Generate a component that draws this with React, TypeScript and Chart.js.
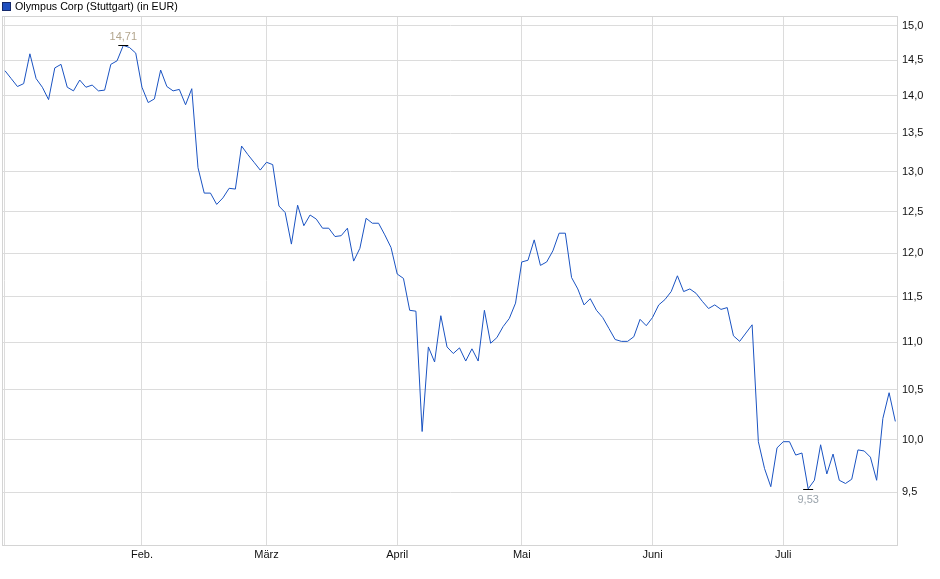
import React, { useEffect, useRef } from 'react';
import { Chart, registerables } from 'chart.js';

Chart.register(...registerables);

// one value per Stuttgart trading day, 2 Jan to 25 Jul
const closes = [
    14.35, 14.24, 14.13, 14.17, 14.59, 14.24, 14.12, 13.95, 14.39, 14.44,
    14.12, 14.07, 14.22, 14.12, 14.15, 14.07, 14.08, 14.44, 14.49, 14.71,
    14.68, 14.60, 14.12, 13.91, 13.96, 14.36, 14.13, 14.07, 14.09, 13.88,
    14.10, 13.05, 12.73, 12.73, 12.59, 12.67, 12.79, 12.78, 13.33, 13.22,
    13.12, 13.02, 13.12, 13.09, 12.57, 12.49, 12.11, 12.58, 12.33, 12.46,
    12.41, 12.30, 12.30, 12.20, 12.21, 12.30, 11.91, 12.06, 12.42, 12.36,
    12.36, 12.22, 12.07, 11.76, 11.71, 11.35, 11.34, 10.08, 10.95, 10.79,
    11.29, 10.95, 10.88, 10.94, 10.80, 10.93, 10.80, 11.35, 10.99, 11.05,
    11.17, 11.26, 11.43, 11.90, 11.92, 12.16, 11.86, 11.90, 12.03, 12.24,
    12.24, 11.72, 11.59, 11.41, 11.48, 11.35, 11.27, 11.15, 11.03, 11.01,
    11.01, 11.06, 11.25, 11.18, 11.27, 11.41, 11.47, 11.56, 11.74, 11.56,
    11.59, 11.54, 11.45, 11.37, 11.41, 11.36, 11.38, 11.07, 11.01, 11.10,
    11.19, 9.98, 9.72, 9.55, 9.92, 9.98, 9.98, 9.85, 9.87, 9.53,
    9.61, 9.95, 9.67, 9.86, 9.61, 9.58, 9.62, 9.90, 9.89, 9.83,
    9.61, 10.21, 10.47, 10.18,
];

// index of the first trading day of each month
const monthStarts = [0, 22, 42, 63, 83, 104, 125];
const monthLabels = ['', 'Feb.', 'März', 'April', 'Mai', 'Juni', 'Juli'];

const yTicks = [9.5, 10, 10.5, 11, 11.5, 12, 12.5, 13, 13.5, 14, 14.5, 15];

const seriesName = 'Olympus Corp (Stuttgart) (in EUR)';

const FONT = '"Liberation Sans", Arial, sans-serif';
const LINE = '#1a53c2';
const GRID = '#dcdcdc';

const fmt = (v: number, d: number) => v.toFixed(d).replace('.', ',');

const extrasPlugin = {
    id: 'extras',
    beforeDatasetsDraw(chart: any) {
        const { ctx, chartArea: a } = chart;
        ctx.save();
        ctx.strokeStyle = '#d4d4d4';
        ctx.lineWidth = 1;
        ctx.strokeRect(Math.round(a.left) - 0.5, Math.round(a.top) + 0.5, Math.round(a.right - a.left), Math.round(a.bottom - a.top));
        ctx.restore();
    },
    afterDatasetsDraw(chart: any) {
        const { ctx } = chart;
        const xs = chart.scales.x;
        const ys = chart.scales.y;
        let hi = 0;
        let lo = 0;
        closes.forEach((v, i) => {
            if (v > closes[hi]) hi = i;
            if (v < closes[lo]) lo = i;
        });
        ctx.save();
        ctx.font = '11px ' + FONT;
        ctx.textAlign = 'center';
        ctx.textBaseline = 'middle';
        ctx.strokeStyle = '#000';
        ctx.lineWidth = 1;

        const mark = (i: number, above: boolean, color: string) => {
            const px = xs.getPixelForValue(i);
            const py = Math.round(ys.getPixelForValue(closes[i])) + 0.5;
            ctx.beginPath();
            ctx.moveTo(px - 5, py);
            ctx.lineTo(px + 5, py);
            ctx.stroke();
            ctx.fillStyle = color;
            ctx.fillText(fmt(closes[i], 2), px, above ? py - 9 : py + 10);
        };
        mark(hi, true, '#b3a68e');
        mark(lo, false, '#9ba4ac');

        // legend
        ctx.fillStyle = '#1f4fbf';
        ctx.fillRect(3, 3, 7, 7);
        ctx.strokeStyle = '#14286a';
        ctx.strokeRect(2.5, 2.5, 8, 8);
        ctx.fillStyle = '#000';
        ctx.textAlign = 'left';
        ctx.font = '10.7px ' + FONT;
        ctx.fillText(seriesName, 15, 7);
        ctx.restore();
    },
};

export default function App() {
    const canvasRef = useRef<HTMLCanvasElement | null>(null);
    const chartRef = useRef<Chart | null>(null);

    useEffect(() => {
        document.body.style.margin = '0';
        if (!canvasRef.current) return;
        if (chartRef.current) chartRef.current.destroy();

        chartRef.current = new Chart(canvasRef.current, {
            type: 'line',
            data: {
                datasets: [
                    {
                        label: seriesName,
                        data: closes.map((v, i) => ({ x: i, y: v })),
                        borderColor: LINE,
                        borderWidth: 1,
                        pointRadius: 0,
                        tension: 0,
                        fill: false,
                    },
                ],
            },
            options: {
                animation: false,
                responsive: true,
                maintainAspectRatio: false,
                layout: { padding: { left: 3, top: 16, right: 0, bottom: 0 } },
                plugins: {
                    legend: { display: false },
                    tooltip: { enabled: false },
                },
                scales: {
                    x: {
                        type: 'linear',
                        min: -0.32,
                        max: 143.43,
                        afterBuildTicks: (s: any) => {
                            s.ticks = monthStarts.map((v) => ({ value: v }));
                        },
                        afterFit: (s: any) => {
                            s.height = 34;
                        },
                        grid: { color: GRID, drawTicks: false },
                        border: { display: false },
                        ticks: {
                            autoSkip: false,
                            maxRotation: 0,
                            padding: 3,
                            color: '#111',
                            font: { family: FONT, size: 11 },
                            callback: (v: any) => {
                                const k = monthStarts.indexOf(Number(v));
                                return k >= 0 ? monthLabels[k] : '';
                            },
                        },
                    },
                    y: {
                        type: 'logarithmic',
                        position: 'right',
                        min: 9.02,
                        max: 15.14,
                        afterBuildTicks: (s: any) => {
                            s.ticks = yTicks.map((v) => ({ value: v }));
                        },
                        afterFit: (s: any) => {
                            s.width = 42;
                        },
                        grid: { color: GRID, drawTicks: false },
                        border: { display: false },
                        ticks: {
                            padding: 4,
                            color: '#111',
                            font: { family: FONT, size: 11 },
                            callback: (v: any) => fmt(Number(v), 1),
                        },
                    },
                },
            },
            plugins: [extrasPlugin],
        });

        return () => {
            if (chartRef.current) {
                chartRef.current.destroy();
                chartRef.current = null;
            }
        };
    }, []);

    return (
        <div style={{ position: 'absolute', left: 0, top: 0, width: 940, height: 579, background: '#fff' }}>
            <canvas ref={canvasRef}></canvas>
        </div>
    );
}
